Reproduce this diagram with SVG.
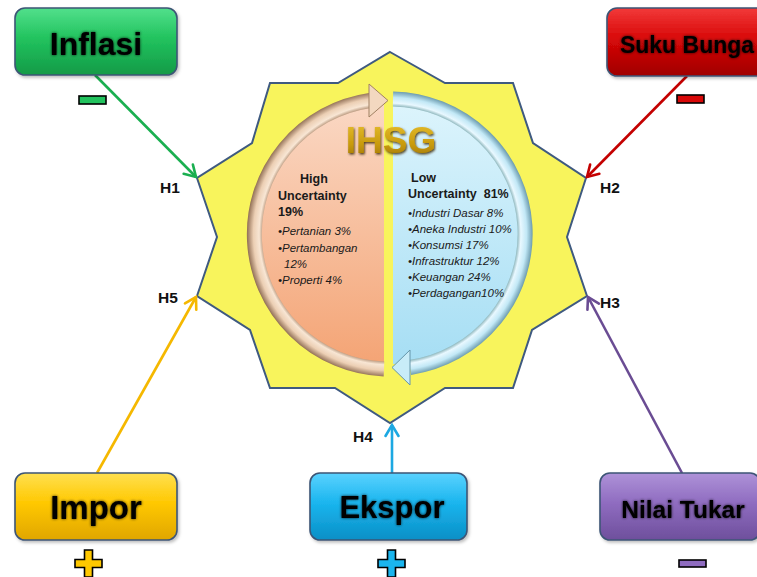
<svg xmlns="http://www.w3.org/2000/svg" width="757" height="577" viewBox="0 0 757 577">
<style>
.box{stroke:#3c5576;stroke-width:1.6}
.bt{font-family:"Liberation Sans",Arial,sans-serif;font-weight:bold;fill:#000;text-anchor:middle}
.lbl{font-family:"Liberation Sans",Arial,sans-serif;font-weight:bold;font-size:15.5px;fill:#111}
.hd{font-family:"Liberation Sans",Arial,sans-serif;font-weight:bold;font-size:12.5px;fill:#1a1a1a;white-space:pre}
.it{font-family:"Liberation Sans",Arial,sans-serif;font-style:italic;font-size:11.5px;fill:#1a1a1a}
.sign{stroke:#000;stroke-width:1.6}
.con{fill:none;stroke-width:2.6}
</style>
<defs>
<filter id="glow" x="-20%" y="-40%" width="140%" height="180%">
<feGaussianBlur in="SourceAlpha" stdDeviation="1.8" result="b"/>
<feComponentTransfer in="b" result="b2"><feFuncA type="linear" slope="0.8"/></feComponentTransfer>
<feMerge><feMergeNode in="b2"/><feMergeNode in="SourceGraphic"/></feMerge>
</filter>
<filter id="shd" x="-10%" y="-10%" width="125%" height="130%">
<feDropShadow dx="1.5" dy="2" stdDeviation="1.5" flood-color="#000" flood-opacity="0.25"/>
</filter>
<filter id="gshd" x="-20%" y="-30%" width="140%" height="160%">
<feDropShadow dx="1" dy="1.5" stdDeviation="1" flood-color="#3a2600" flood-opacity="0.85"/>
</filter>
<linearGradient id="gG" x1="0" y1="0" x2="0" y2="1"><stop offset="0" stop-color="#52e08c"/><stop offset="0.45" stop-color="#22c35e"/><stop offset="1" stop-color="#139a47"/></linearGradient>
<linearGradient id="gR" x1="0" y1="0" x2="0" y2="1"><stop offset="0" stop-color="#f23a3a"/><stop offset="0.45" stop-color="#d80808"/><stop offset="1" stop-color="#a00000"/></linearGradient>
<linearGradient id="gY" x1="0" y1="0" x2="0" y2="1"><stop offset="0" stop-color="#ffe050"/><stop offset="0.45" stop-color="#ffc800"/><stop offset="1" stop-color="#e0a600"/></linearGradient>
<linearGradient id="gC" x1="0" y1="0" x2="0" y2="1"><stop offset="0" stop-color="#5ad2ff"/><stop offset="0.45" stop-color="#1ab5ee"/><stop offset="1" stop-color="#0a8fc6"/></linearGradient>
<linearGradient id="gP" x1="0" y1="0" x2="0" y2="1"><stop offset="0" stop-color="#ae92d8"/><stop offset="0.45" stop-color="#8f6cc0"/><stop offset="1" stop-color="#6e4f9c"/></linearGradient>
<linearGradient id="fL" x1="0" y1="0" x2="0" y2="1"><stop offset="0" stop-color="#fad8c4"/><stop offset="1" stop-color="#f4a475"/></linearGradient>
<linearGradient id="fR" x1="0" y1="0" x2="0" y2="1"><stop offset="0" stop-color="#dcf4fc"/><stop offset="1" stop-color="#a6def4"/></linearGradient>
<linearGradient id="gold" x1="0" y1="0" x2="0" y2="1"><stop offset="0" stop-color="#e8c030"/><stop offset="0.6" stop-color="#c89a0c"/><stop offset="1" stop-color="#9a7000"/></linearGradient>
<radialGradient id="rL" gradientUnits="userSpaceOnUse" cx="390" cy="234" r="143"><stop offset="0.88" stop-color="#a07a5c"/><stop offset="0.915" stop-color="#f8e6d4"/><stop offset="0.955" stop-color="#eccfb4"/><stop offset="1" stop-color="#927056"/></radialGradient>
<radialGradient id="rR" gradientUnits="userSpaceOnUse" cx="390" cy="234" r="143"><stop offset="0.88" stop-color="#66999e"/><stop offset="0.915" stop-color="#e8f8ff"/><stop offset="0.955" stop-color="#c2e8f6"/><stop offset="1" stop-color="#6696aa"/></radialGradient>
<clipPath id="cL"><rect x="0" y="0" width="384" height="577"/></clipPath>
<clipPath id="cR"><rect x="393" y="0" width="364" height="577"/></clipPath>
<marker id="aG" viewBox="0 0 16 16" markerUnits="userSpaceOnUse" markerWidth="16" markerHeight="16" refX="14" refY="8" orient="auto"><path d="M3,1.5 L14,8 L3,14.5" fill="none" stroke="#1aaf50" stroke-width="2.6" stroke-linecap="round"/></marker>
<marker id="aR" viewBox="0 0 16 16" markerUnits="userSpaceOnUse" markerWidth="16" markerHeight="16" refX="14" refY="8" orient="auto"><path d="M3,1.5 L14,8 L3,14.5" fill="none" stroke="#c40000" stroke-width="2.6" stroke-linecap="round"/></marker>
<marker id="aY" viewBox="0 0 16 16" markerUnits="userSpaceOnUse" markerWidth="16" markerHeight="16" refX="14" refY="8" orient="auto"><path d="M3,1.5 L14,8 L3,14.5" fill="none" stroke="#f5b800" stroke-width="2.6" stroke-linecap="round"/></marker>
<marker id="aC" viewBox="0 0 16 16" markerUnits="userSpaceOnUse" markerWidth="16" markerHeight="16" refX="14" refY="8" orient="auto"><path d="M3,1.5 L14,8 L3,14.5" fill="none" stroke="#1ca8e2" stroke-width="2.6" stroke-linecap="round"/></marker>
<marker id="aP" viewBox="0 0 16 16" markerUnits="userSpaceOnUse" markerWidth="16" markerHeight="16" refX="14" refY="8" orient="auto"><path d="M3,1.5 L14,8 L3,14.5" fill="none" stroke="#6a4c93" stroke-width="2.6" stroke-linecap="round"/></marker>
</defs>
<rect width="757" height="577" fill="#fff"/>

<g id="ihsg">
<polygon points="390,52 445,83 513,83 533,143 586,178 567,237 587,296 532,330 513,388 445,388 390,423 335,388 270,388 250,330 197,296 217,237 197,178 252,143 270,83 338,83" fill="#f8f45c" stroke="#3f5a80" stroke-width="2" stroke-linejoin="miter"/>
<circle cx="390" cy="234" r="130" fill="url(#fL)" clip-path="url(#cL)"/>
<circle cx="390" cy="234" r="130" fill="url(#fR)" clip-path="url(#cR)"/>
<path d="M384,369 A135,135 0 0 1 370,100.5" fill="none" stroke="url(#rL)" stroke-width="15"/>
<polygon points="369,84 388,100.5 369,117" fill="#f3d8c0" stroke="#a08062" stroke-width="1"/>
<path d="M393,99 A135,135 0 0 1 410,367.5" fill="none" stroke="url(#rR)" stroke-width="15"/>
<polygon points="410,350 392,367.5 410,385" fill="#c8ecf8" stroke="#6696aa" stroke-width="1"/>
<text x="391" y="153" font-family="Liberation Sans,Arial,sans-serif" font-weight="bold" font-size="37" text-anchor="middle" fill="url(#gold)" filter="url(#gshd)">IHSG</text>
<text class="hd" x="300" y="183">High</text>
<text class="hd" x="278" y="200">Uncertainty</text>
<text class="hd" x="278" y="216">19%</text>
<text class="it" x="278" y="235">•Pertanian 3%</text>
<text class="it" x="278" y="252">•Pertambangan</text>
<text class="it" x="284" y="268">12%</text>
<text class="it" x="278" y="284">•Properti 4%</text>
<text class="hd" x="411" y="182">Low</text>
<text class="hd" x="408" y="198">Uncertainty  81%</text>
<text class="it" x="408" y="217">•Industri Dasar 8%</text>
<text class="it" x="408" y="233">•Aneka Industri 10%</text>
<text class="it" x="408" y="249">•Konsumsi 17%</text>
<text class="it" x="408" y="265">•Infrastruktur 12%</text>
<text class="it" x="408" y="281">•Keuangan 24%</text>
<text class="it" x="408" y="297">•Perdagangan10%</text>
</g>

<g id="connectors">
<line class="con" x1="95" y1="75" x2="196" y2="177" stroke="#1aaf50" marker-end="url(#aG)"/>
<line class="con" x1="687" y1="76" x2="587" y2="177" stroke="#c40000" marker-end="url(#aR)"/>
<line class="con" x1="97" y1="473" x2="196" y2="297" stroke="#f5b800" marker-end="url(#aY)"/>
<line class="con" x1="682" y1="473" x2="588" y2="297" stroke="#6a4c93" marker-end="url(#aP)"/>
<line class="con" x1="392" y1="473" x2="392" y2="425" stroke="#1ca8e2" marker-end="url(#aC)"/>
<text class="lbl" x="160" y="193">H1</text>
<text class="lbl" x="600" y="193">H2</text>
<text class="lbl" x="600" y="308">H3</text>
<text class="lbl" x="353" y="442">H4</text>
<text class="lbl" x="158" y="303">H5</text>
</g>

<g id="inflasi">
<rect class="box" x="15" y="8" width="162" height="67" rx="10" fill="url(#gG)" filter="url(#shd)"/>
<text class="bt" x="96" y="55" font-size="32" filter="url(#glow)">Inflasi</text>
<rect class="sign" x="79" y="96" width="27" height="8" fill="#22c35e"/>
</g>
<g id="suku-bunga">
<rect class="box" x="607" y="8" width="164" height="68" rx="10" fill="url(#gR)" filter="url(#shd)"/>
<text class="bt" x="687" y="53" font-size="23" filter="url(#glow)">Suku Bunga</text>
<rect class="sign" x="677" y="95" width="27" height="8" fill="#d80808"/>
</g>
<g id="impor">
<rect class="box" x="15" y="473" width="162" height="67" rx="10" fill="url(#gY)" filter="url(#shd)"/>
<text class="bt" x="96" y="519" font-size="33" filter="url(#glow)">Impor</text>
<path class="sign" d="M84.5,550 h8 v9.5 h9.5 v8 h-9.5 v9.5 h-8 v-9.5 h-9.5 v-8 h9.5 z" fill="#ffc800"/>
</g>
<g id="ekspor">
<rect class="box" x="310" y="473" width="157" height="67" rx="10" fill="url(#gC)" filter="url(#shd)"/>
<text class="bt" x="392" y="518" font-size="31" filter="url(#glow)">Ekspor</text>
<path class="sign" d="M387.5,550 h8 v9.5 h9.5 v8 h-9.5 v9.5 h-8 v-9.5 h-9.5 v-8 h9.5 z" fill="#1ab5ee"/>
</g>
<g id="nilai-tukar">
<rect class="box" x="600" y="473" width="160" height="67" rx="10" fill="url(#gP)" filter="url(#shd)"/>
<text class="bt" x="683" y="518" font-size="24.5" filter="url(#glow)">Nilai Tukar</text>
<rect class="sign" x="679" y="560" width="27" height="7" fill="#8f6cc0"/>
</g>
</svg>
